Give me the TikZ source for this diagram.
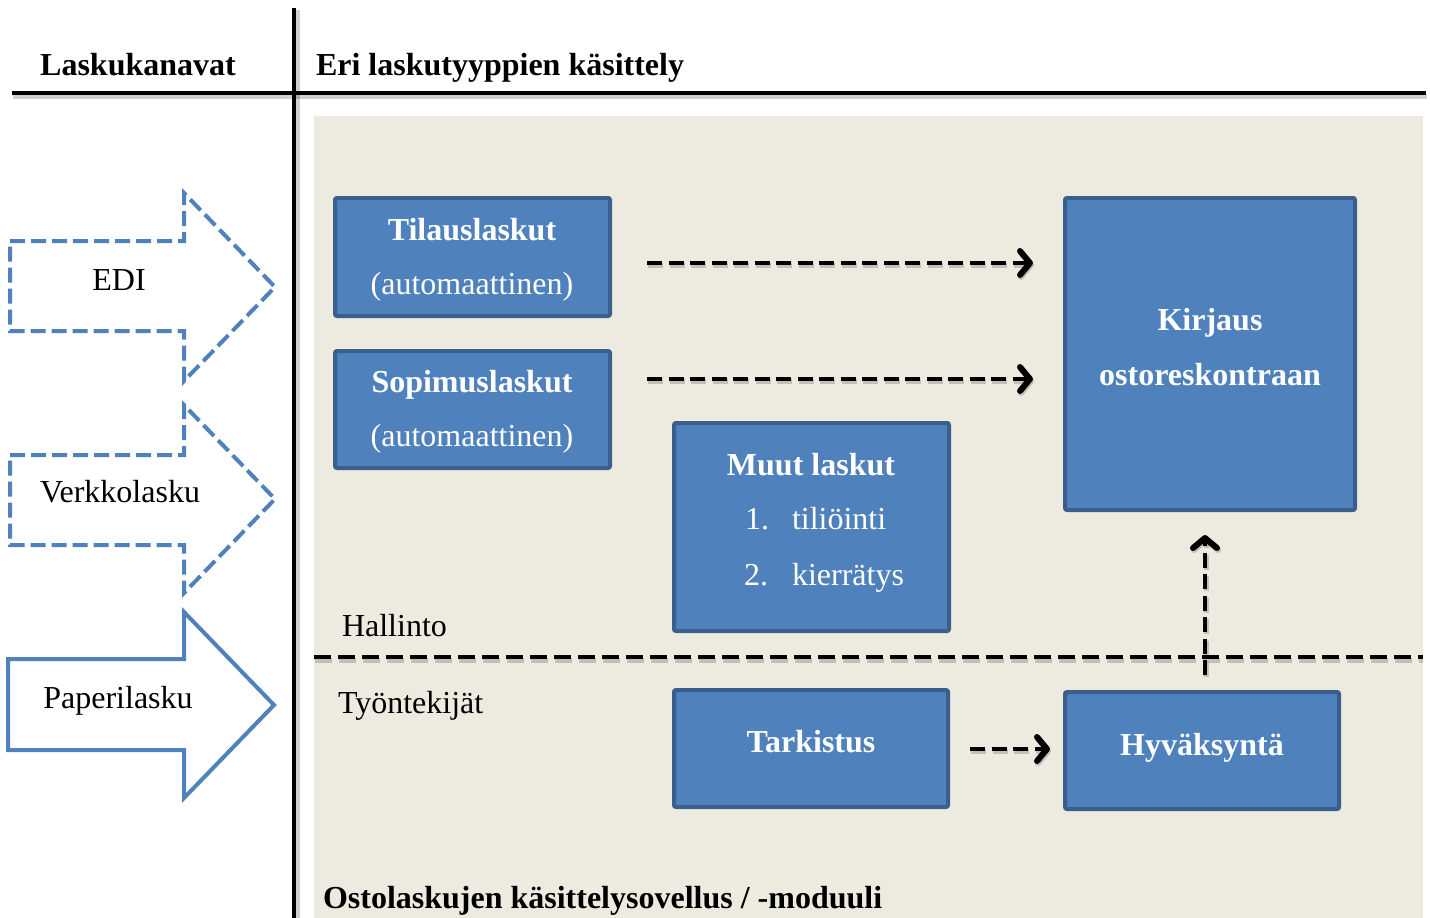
\documentclass[tikz,border=0pt]{standalone}
\usepackage{fontspec}
\setmainfont{Liberation Serif}
\usetikzlibrary{arrows.meta,calc}
\definecolor{boxfill}{HTML}{4F81BD}
\definecolor{boxedge}{HTML}{3A5F8D}
\definecolor{panel}{HTML}{EDEBE0}
\definecolor{chanblue}{HTML}{4F81BD}
\begin{document}
\begin{tikzpicture}[x=1pt,y=-1pt,
  every node/.style={inner sep=0pt,outer sep=0pt,font=\fontsize{32}{38}\selectfont},
  procbox/.style={draw=boxedge,fill=boxfill,line width=4pt,rounded corners=2pt,
    anchor=north west},
  boxtitle/.style={anchor=base,text=white,font=\fontsize{32}{38}\selectfont\bfseries},
  boxtext/.style={anchor=base,text=white},
  plain/.style={anchor=base west},
  heading/.style={anchor=base west,font=\fontsize{32}{38}\selectfont\bfseries},
  tipshape/.style={-{Straight Barb[length=10pt,width=24pt,line width=6pt,line cap=round,line join=round]}},
  flow/.style={line width=4pt,dash pattern=on 15pt off 6.5pt,tipshape},
  flowshadow/.style={line width=5pt,dash pattern=on 15pt off 6.5pt,black,opacity=0.18,tipshape},
  channel/.style={draw=chanblue,line width=4pt,fill=white,line join=miter},
  channeldash/.style={channel,dash pattern=on 15pt off 6pt},
  rule/.style={line width=4.5pt,black}]

\useasboundingbox (0,0) rectangle (1430,918);
\fill[white] (0,0) rectangle (1430,918);

% processing area
\fill[panel] (314,116) rectangle (1423,918);

% header rules with a faint shadow
\draw[line width=5pt,black,opacity=0.18] (13,96) -- (1427,96);
\draw[line width=5pt,black,opacity=0.18] (297,10) -- (297,918);
\draw[rule] (12,93) -- (1426,93);
\draw[rule] (294,8) -- (294,918);

\node[anchor=base] (hchan) at (138,75) {\bfseries Laskukanavat};
\node[heading] (hproc) at (316,75) {Eri laskutyyppien käsittely};

% invoice channels
\draw[channeldash] (10,241) -- (184,241) -- (184,193) -- (275,287) -- (184,381)
  -- (184,331) -- (10,331) -- cycle;
\node[anchor=base] (edi) at (119,290) {EDI};
\draw[channeldash] (10,455) -- (184,455) -- (184,405) -- (275,499) -- (184,593)
  -- (184,545) -- (10,545) -- cycle;
\node[anchor=base] (verkko) at (120,502) {Verkkolasku};
\draw[channel] (8,659) -- (184,659) -- (184,612) -- (274,705) -- (184,798)
  -- (184,750) -- (8,750) -- cycle;
\node[anchor=base] (paperi) at (118,708) {Paperilasku};

% administration / employee split
\coordinate (splitL) at (314,657);
\coordinate (splitR) at (1423,657);
\draw[line width=5pt,black,opacity=0.18,dash pattern=on 17pt off 7pt] ($(splitL)+(1,3)$) -- ($(splitR)+(0,3)$);
\draw[line width=4pt,dash pattern=on 17pt off 7pt] (splitL) -- (splitR);
\node[plain] (hallinto) at (342,636) {Hallinto};
\node[plain] (tyont) at (338,713) {Työntekijät};

% process boxes
\node[procbox,minimum width=275pt,minimum height=118pt] (tilaus) at (335,198) {};
\node[boxtitle] (tilausT) at (472,240) {Tilauslaskut};
\node[boxtext] (tilausS) at (472,294) {(automaattinen)};

\node[procbox,minimum width=275pt,minimum height=117pt] (sopimus) at (335,351) {};
\node[boxtitle] (sopimusT) at (472,392) {Sopimuslaskut};
\node[boxtext] (sopimusS) at (472,446) {(automaattinen)};

\node[procbox,minimum width=275pt,minimum height=208pt] (muut) at (674,423) {};
\node[boxtitle] (muutT) at (811,475) {Muut laskut};
\node[boxtext,anchor=base west] (muutN1) at (745,529) {1.};
\node[boxtext,anchor=base west] (muutA) at (792,529) {tiliöinti};
\node[boxtext,anchor=base west] (muutN2) at (744,585) {2.};
\node[boxtext,anchor=base west] (muutB) at (792,585) {kierrätys};

\node[procbox,minimum width=290pt,minimum height=312pt] (kirjaus) at (1065,198) {};
\node[boxtitle] (kirjausT) at (1210,330) {Kirjaus};
\node[boxtitle] (kirjausS) at (1210,385) {ostoreskontraan};

\node[procbox,minimum width=274pt,minimum height=117pt] (tark) at (674,690) {};
\node[boxtitle] (tarkT) at (811,752) {Tarkistus};

\node[procbox,minimum width=274pt,minimum height=117pt] (hyv) at (1065,692) {};
\node[boxtitle] (hyvT) at (1202,755) {Hyväksyntä};

% flows (shadow first)
\draw[flowshadow] ($(tilaus.east)+(38,8)$) -- ($(kirjaus.west |- tilaus.east)+(-31,8)$);
\draw[flow] ($(tilaus.east)+(37,6)$) -- ($(kirjaus.west |- tilaus.east)+(-32,6)$);
\draw[flowshadow] ($(sopimus.east)+(38,-28.5)$) -- ($(kirjaus.west |- sopimus.east)+(-31,-28.5)$);
\draw[flow] ($(sopimus.east)+(37,-30.5)$) -- ($(kirjaus.west |- sopimus.east)+(-32,-30.5)$);
\draw[flowshadow] ($(tark.east)+(23,2.5)$) -- ($(hyv.west |- tark.east)+(-14,2.5)$);
\draw[flow] ($(tark.east)+(22,0.5)$) -- ($(hyv.west |- tark.east)+(-15,0.5)$);
\draw[flowshadow] ($(hyv.north)+(4,-15)$) -- ($(hyv.north |- kirjaus.south)+(4,27)$);
\draw[flow] ($(hyv.north)+(3,-17)$) -- ($(hyv.north |- kirjaus.south)+(3,25)$);

\node[heading] (module) at (323,908) {Ostolaskujen käsittelysovellus / -moduuli};
\end{tikzpicture}
\end{document}
